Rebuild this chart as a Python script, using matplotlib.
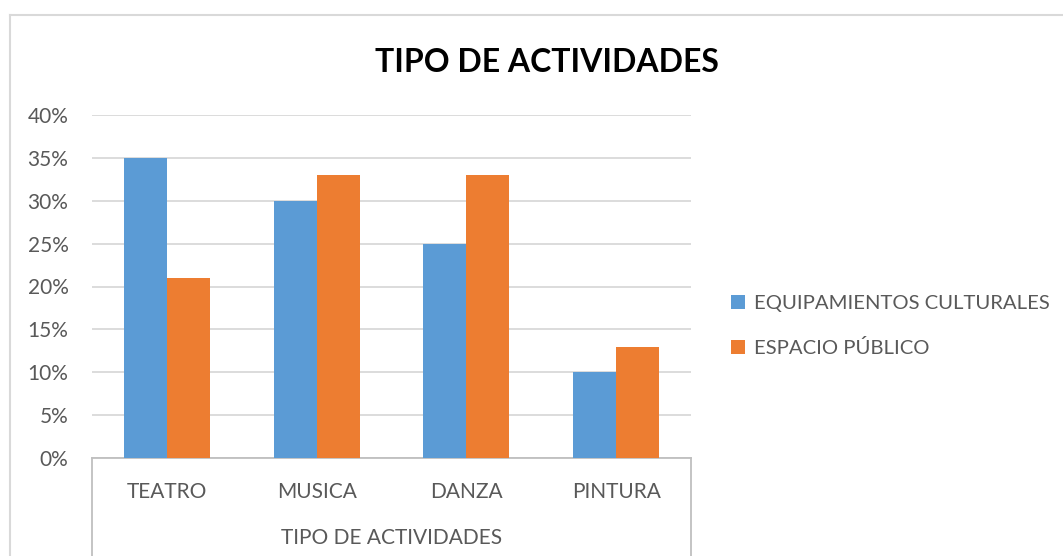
import numpy as np
import matplotlib
matplotlib.use("Agg")
import matplotlib.pyplot as plt
from matplotlib.lines import Line2D
from matplotlib.ticker import FuncFormatter

plt.rcParams['font.family'] = ['Lato', 'DejaVu Sans']

# data
categories = ['TEATRO', 'MUSICA', 'DANZA', 'PINTURA']
equipamientos = [0.35, 0.30, 0.25, 0.10]
espacio_publico = [0.21, 0.33, 0.33, 0.13]
series_names = ['EQUIPAMIENTOS CULTURALES', 'ESPACIO PÚBLICO']
title = 'TIPO DE ACTIVIDADES'
axis_group = 'TIPO DE ACTIVIDADES'

W, H = 1063, 556
fig = plt.figure(figsize=(W / 100, H / 100), dpi=100)
fig.patch.set_facecolor('white')

txt = '#595959'
grid_c = '#D9D9D9'
axis_c = '#BFBFBF'
blue = '#5B9BD5'
orange = '#ED7D31'

# outer chart border (cropped at right/bottom)
fig.add_artist(Line2D([10 / W, 1.0], [1 - 15 / H, 1 - 15 / H], color=grid_c, lw=1.5))
fig.add_artist(Line2D([10 / W, 10 / W], [0, 1 - 15 / H], color=grid_c, lw=1.5))

# plot area
x0, x1, y0, y1 = 92, 691, 458, 115
ax = fig.add_axes([x0 / W, 1 - y0 / H, (x1 - x0) / W, (y0 - y1) / H])

x = np.arange(len(categories))
bw = 0.287
ax.bar(x - bw / 2, equipamientos, bw, color=blue, label=series_names[0], zorder=3)
ax.bar(x + bw / 2, espacio_publico, bw, color=orange, label=series_names[1], zorder=3)

ax.set_xlim(-0.5, len(categories) - 0.5)
ax.set_ylim(0, 0.40)
ax.set_yticks(np.arange(0, 0.41, 0.05))
ax.yaxis.set_major_formatter(FuncFormatter(lambda v, p: '{:.0f}%'.format(v * 100)))
ax.grid(axis='y', color=grid_c, lw=1.3, zorder=0)
ax.set_axisbelow(True)

for s in ['top', 'right', 'left']:
    ax.spines[s].set_visible(False)
ax.spines['bottom'].set_color(axis_c)
ax.spines['bottom'].set_linewidth(1.3)

ax.tick_params(axis='y', length=0, pad=17, labelsize=15, labelcolor=txt)
ax.set_xticks(x)
ax.set_xticklabels(categories)
ax.tick_params(axis='x', length=0, pad=17, labelsize=15, labelcolor=txt)

# multi-level category axis frame
for xe in [0, 1]:
    ax.add_artist(Line2D([xe, xe], [0, -0.35], transform=ax.transAxes,
                         color=axis_c, lw=1.3, clip_on=False))
ax.text(0.5, -(538 - y0) / (y0 - y1), axis_group, transform=ax.transAxes,
        ha='center', va='center', fontsize=15, color=txt)

fig.text(547 / W, 1 - 62 / H, title, ha='center', va='center',
         fontsize=23, fontweight='bold', color='black')

leg = fig.legend(loc='center left', bbox_to_anchor=(713 / W, 1 - 326 / H),
                 frameon=False, fontsize=14.6, handlelength=0.7, handleheight=0.7,
                 handletextpad=0.4, labelspacing=1.3)
for t in leg.get_texts():
    t.set_color(txt)

fig.savefig('out.png', dpi=100)
